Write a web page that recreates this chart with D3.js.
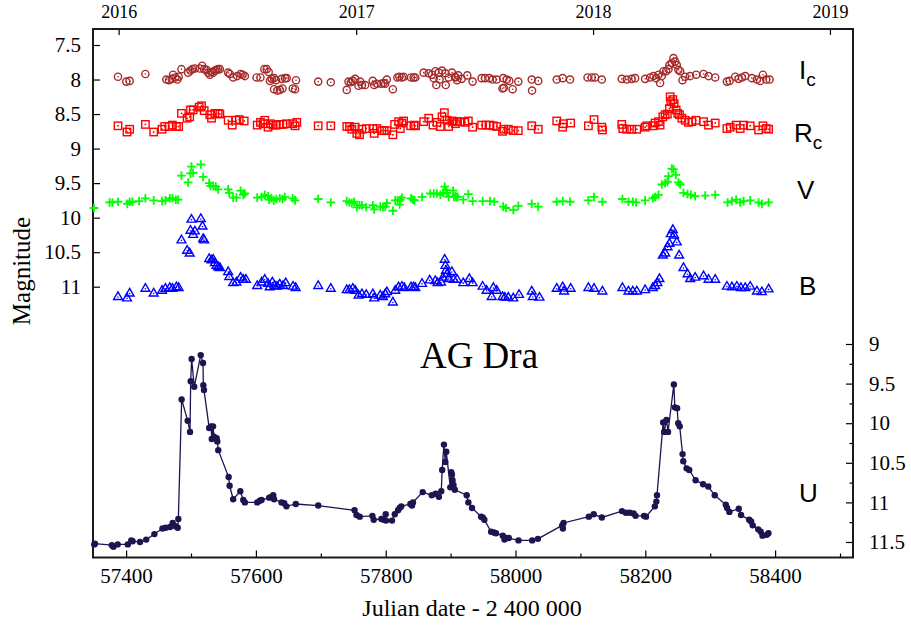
<!DOCTYPE html>
<html><head><meta charset="utf-8">
<script src="https://cdn.jsdelivr.net/npm/d3@7"></script>
<style>
html,body{margin:0;padding:0;background:#fff;}
svg{display:block;}
.serif{font-family:"Liberation Serif","Times New Roman",serif;}
.sans{font-family:"Liberation Sans",Arial,sans-serif;}
</style></head>
<body>
<svg id="c" width="911" height="628"></svg>
<script>
// ---------- data ----------
const bottomTicks = [57400, 57600, 57800, 58000, 58200, 58400];
const bottomMinor = [57500, 57700, 57900, 58100, 58300, 58500];
const yearTicks = [57388.5, 57754.5, 58119.5, 58484.5];
const yearLabels = ["2016", "2017", "2018", "2019"];
const leftTicks = [7.5, 8, 8.5, 9, 9.5, 10, 10.5, 11];
const rightTicks = [9, 9.5, 10, 10.5, 11, 11.5];
const rightMinor = [9.25, 9.75, 10.25, 10.75, 11.25];

const icData = [[57387.5,7.96],[57400.3,8.03],[57405.5,8.02],[57429.7,7.92],[57462,8.00],[57466,8.01],[57470.3,7.99],[57472.4,7.93],[57476,7.97],[57479,8.00],[57481,7.96],[57485.3,7.85],[57495.6,7.90],[57499.2,7.87],[57502,7.85],[57506,7.84],[57513.6,7.84],[57517.2,7.80],[57520.3,7.85],[57523.9,7.86],[57526.5,7.90],[57529,7.93],[57531.6,7.89],[57534.2,7.90],[57536.8,7.87],[57539.3,7.86],[57541.9,7.85],[57544.5,7.85],[57557.3,7.90],[57559.9,7.92],[57565,7.97],[57571.2,7.95],[57576.4,7.92],[57579.5,7.93],[57583,7.95],[57601,7.97],[57607,7.97],[57613,7.85],[57616.6,7.85],[57619.7,7.89],[57621.7,8.02],[57624.3,7.99],[57627.9,7.98],[57631,8.01],[57628,8.14],[57633,8.16],[57637,8.15],[57641,8.13],[57639.7,7.99],[57644.8,7.98],[57647.5,7.98],[57656.7,8.13],[57660.3,8.14],[57661.8,8.01],[57696,8.03],[57715.4,8.04],[57740,8.15],[57742.7,8.03],[57746.3,8.04],[57749.3,8.02],[57753,7.99],[57758,8.09],[57763.4,8.08],[57768.4,8.08],[57760.7,8.03],[57780,8.02],[57782.3,8.08],[57786.4,8.06],[57793,8.06],[57796.7,8.05],[57799.2,8.06],[57801.7,8.00],[57811,8.14],[57818,7.97],[57821,7.96],[57825,7.97],[57827.6,7.96],[57839,7.97],[57843,7.97],[57845.6,7.97],[57858.5,7.90],[57866.2,7.91],[57871.3,7.93],[57876.5,7.88],[57881.6,7.90],[57886.8,7.87],[57892,7.91],[57897,7.97],[57902,7.90],[57907.4,7.97],[57910,8.01],[57878,8.08],[57892.5,8.08],[57874,7.98],[57883,8.00],[57906.6,7.96],[57911.8,7.94],[57917,7.99],[57925.7,7.94],[57933.9,8.03],[57947.8,7.98],[57953,7.98],[57959.6,7.98],[57964.8,8.00],[57971,8.00],[57981,7.98],[57986.4,8.00],[57990.4,8.02],[57980,8.13],[57982,8.12],[57995.6,8.14],[58004.3,8.03],[58025,8.00],[58035,8.02],[58025.5,8.16],[58063.5,8.00],[58072.7,7.98],[58084,8.00],[58111,7.97],[58117.4,7.97],[58122.6,7.97],[58133,8.00],[58163.7,7.99],[58171.4,8.00],[58179,7.99],[58184.3,7.98],[58199.7,7.99],[58207.4,7.97],[58212.6,7.95],[58216.7,7.98],[58220.3,7.93],[58222.8,8.05],[58225.4,7.95],[58228,7.88],[58232.1,7.88],[58235.7,7.85],[58237.2,7.79],[58240.8,7.76],[58243.4,7.69],[58246,7.74],[58248.5,7.79],[58251,7.86],[58253.7,7.88],[58257.3,8.01],[58261.4,7.96],[58269,7.95],[58278.4,7.93],[58289.7,7.92],[58297.4,7.95],[58307.7,7.97],[58325.7,8.03],[58329.8,8.02],[58338.5,7.96],[58343.7,7.99],[58348.8,7.97],[58354,7.95],[58364.2,7.98],[58372,8.00],[58377,8.02],[58381.2,7.93],[58386.3,8.00],[58391.5,8.00]];

const rcData = [[57387.5,8.67],[57401.4,8.76],[57405.5,8.72],[57429.7,8.65],[57442.5,8.76],[57455.4,8.72],[57459.5,8.68],[57466.2,8.68],[57471.4,8.66],[57477.5,8.68],[57481,8.68],[57485.3,8.49],[57494,8.56],[57498,8.54],[57499.2,8.44],[57503.3,8.44],[57512.6,8.40],[57516.2,8.38],[57520.3,8.45],[57529,8.51],[57531.6,8.56],[57536.8,8.49],[57541.9,8.49],[57544.5,8.50],[57557.3,8.59],[57563.5,8.66],[57569.2,8.59],[57574.3,8.58],[57582,8.60],[57602,8.66],[57607,8.62],[57611,8.64],[57613.6,8.59],[57618.7,8.69],[57622.3,8.64],[57626.5,8.66],[57631.5,8.66],[57636.7,8.65],[57641.8,8.65],[57647,8.64],[57656.7,8.64],[57660.3,8.67],[57663,8.62],[57696,8.67],[57715.4,8.67],[57740,8.68],[57744.2,8.68],[57747.8,8.72],[57753,8.69],[57755.5,8.78],[57759.6,8.80],[57763.3,8.72],[57770,8.71],[57780.2,8.71],[57782.3,8.78],[57786.4,8.71],[57794,8.74],[57797.7,8.74],[57801.8,8.74],[57811,8.80],[57813.7,8.65],[57820,8.61],[57825,8.63],[57822.5,8.71],[57827.6,8.60],[57838.5,8.67],[57843.6,8.66],[57846,8.67],[57858.5,8.61],[57866.2,8.56],[57872.9,8.66],[57879,8.62],[57884,8.68],[57886.8,8.54],[57890.4,8.48],[57894.5,8.59],[57897,8.68],[57902,8.60],[57907.4,8.64],[57910,8.61],[57904,8.61],[57914.4,8.61],[57922,8.62],[57927.3,8.60],[57933.9,8.69],[57947.8,8.66],[57954.5,8.66],[57960.6,8.66],[57965.8,8.67],[57971,8.68],[57980,8.75],[57982,8.72],[57989,8.72],[57996.6,8.74],[58004.3,8.74],[58025,8.67],[58035,8.72],[58063.5,8.60],[58072.7,8.69],[58073.7,8.64],[58085,8.63],[58112.3,8.67],[58121,8.58],[58133,8.69],[58134,8.73],[58163.7,8.65],[58165.3,8.71],[58171.4,8.72],[58179,8.72],[58186.9,8.72],[58199.7,8.69],[58202.3,8.67],[58212.6,8.67],[58215.1,8.63],[58220.3,8.61],[58222.8,8.66],[58227,8.54],[58230.5,8.51],[58234,8.50],[58237.2,8.42],[58238.3,8.25],[58239.3,8.32],[58242.4,8.29],[58244.4,8.35],[58247.5,8.44],[58250,8.49],[58252.7,8.51],[58256.3,8.56],[58261.4,8.59],[58266.5,8.62],[58271.7,8.61],[58277.9,8.59],[58289.7,8.61],[58297.4,8.66],[58307.7,8.63],[58325.7,8.71],[58330.8,8.69],[58340,8.66],[58346.2,8.71],[58351.4,8.66],[58361.6,8.67],[58374.5,8.73],[58381.2,8.67],[58386.3,8.71],[58390,8.72]];

const vData = [[57350.4,9.86],[57374.6,9.78],[57378.7,9.78],[57387.5,9.77],[57401.9,9.80],[57405.5,9.77],[57409.6,9.77],[57420,9.76],[57429.7,9.72],[57442.5,9.75],[57455.4,9.76],[57460.6,9.75],[57467.3,9.72],[57471.4,9.72],[57476.5,9.74],[57480.1,9.74],[57485.3,9.39],[57495.6,9.49],[57499.2,9.36],[57500.7,9.26],[57503.3,9.35],[57515.1,9.23],[57518.7,9.41],[57528,9.50],[57530,9.54],[57534.2,9.54],[57538.3,9.55],[57541.9,9.59],[57557.3,9.59],[57558.9,9.64],[57565,9.71],[57570,9.71],[57576.4,9.61],[57580.5,9.67],[57583,9.65],[57602,9.71],[57608.8,9.70],[57613.6,9.67],[57618.7,9.69],[57620.3,9.74],[57623.9,9.72],[57627.5,9.75],[57631.6,9.73],[57636.7,9.72],[57640.8,9.73],[57644.5,9.70],[57656.7,9.72],[57660.3,9.75],[57696,9.73],[57715.4,9.78],[57740,9.76],[57744,9.78],[57747.8,9.79],[57751.4,9.77],[57755.5,9.85],[57759.6,9.82],[57763.3,9.82],[57770,9.85],[57780.2,9.82],[57782.3,9.88],[57791.6,9.84],[57795.7,9.85],[57799.3,9.84],[57801.8,9.79],[57811,9.90],[57814.7,9.75],[57818.3,9.75],[57821.4,9.81],[57822.5,9.74],[57825,9.71],[57839,9.72],[57842,9.74],[57844.2,9.75],[57856,9.70],[57868.8,9.65],[57874,9.65],[57879,9.65],[57884.2,9.67],[57888.3,9.64],[57890.9,9.55],[57892.9,9.60],[57894.5,9.64],[57897,9.70],[57903.8,9.61],[57907.4,9.69],[57911,9.70],[57905,9.70],[57909.2,9.70],[57919.5,9.74],[57927.3,9.66],[57933.9,9.76],[57949.3,9.76],[57960.6,9.76],[57967.3,9.77],[57981,9.84],[57985.3,9.86],[57996.6,9.89],[58004.3,9.83],[58025,9.80],[58035,9.84],[58063.5,9.77],[58072.7,9.76],[58084,9.77],[58112.3,9.75],[58121,9.70],[58133.9,9.77],[58164.7,9.73],[58174,9.77],[58180.7,9.77],[58185.8,9.78],[58199.7,9.75],[58211.5,9.72],[58215.1,9.70],[58220.3,9.67],[58225.4,9.52],[58230.6,9.50],[58234.2,9.48],[58235.7,9.40],[58240.8,9.29],[58243.4,9.30],[58247,9.38],[58251.1,9.49],[58253.7,9.52],[58258.8,9.64],[58265,9.66],[58270.1,9.67],[58276.8,9.69],[58292.3,9.68],[58307.7,9.67],[58326.7,9.78],[58333.4,9.76],[58340,9.74],[58346.2,9.78],[58351.4,9.76],[58361.6,9.75],[58374.5,9.78],[58379.6,9.80],[58390,9.78]];

const bData = [[57387.5,11.14],[57401.4,11.16],[57405.5,11.09],[57429.7,11.02],[57442.5,11.09],[57455.4,11.05],[57460.6,11.02],[57467.3,11.01],[57471.4,11.02],[57477.5,11.00],[57481,11.01],[57485.3,10.32],[57494,10.47],[57498,10.51],[57499.2,10.18],[57500.7,10.02],[57503.3,10.24],[57505.9,10.19],[57515.1,10.01],[57517.7,10.12],[57518.7,10.30],[57520.3,10.32],[57528,10.59],[57531.6,10.61],[57534.2,10.60],[57536.8,10.65],[57539.3,10.69],[57541.9,10.71],[57544.5,10.72],[57557.3,10.78],[57558.9,10.85],[57565,10.94],[57570,10.93],[57576.4,10.86],[57580.5,10.89],[57584.6,10.89],[57602,10.98],[57608.8,10.93],[57613.6,10.89],[57618.7,10.95],[57621.2,11.00],[57625.3,10.93],[57628.9,10.98],[57632.5,10.99],[57636.7,10.96],[57641.8,10.98],[57645.9,10.94],[57657.2,10.99],[57661.3,11.01],[57696,10.98],[57715.4,11.02],[57740,11.04],[57744.2,11.04],[57749.3,11.02],[57753,11.05],[57758.2,11.12],[57763.3,11.10],[57770,11.11],[57780.2,11.10],[57782.3,11.16],[57791.6,11.12],[57795.7,11.14],[57799.3,11.10],[57801.8,11.07],[57811,11.22],[57814.7,11.05],[57819.8,11.00],[57825,10.99],[57828.6,11.01],[57839,11.00],[57843,11.00],[57845.6,11.01],[57856,10.95],[57867.8,10.90],[57876.5,10.91],[57880,10.94],[57885.2,10.93],[57888.3,10.86],[57890.9,10.60],[57892,10.69],[57892.9,10.76],[57894.5,10.81],[57897,10.88],[57902,10.78],[57904.8,10.89],[57910,10.89],[57919.5,10.94],[57928.8,10.88],[57933.9,10.94],[57949.3,10.99],[57955.4,11.05],[57963.2,11.14],[57965.8,11.01],[57971,11.05],[57980,11.14],[57983.5,11.15],[57988.9,11.15],[57996.6,11.16],[58005.4,11.11],[58025,11.06],[58026.6,11.14],[58036.9,11.15],[58063.5,11.02],[58072.7,11.00],[58074.8,11.06],[58085,11.02],[58112.3,11.01],[58121,11.02],[58133.9,11.06],[58164.7,11.01],[58174,11.06],[58180.7,11.06],[58186.9,11.06],[58199.7,11.04],[58211.5,11.01],[58215.1,10.98],[58218.7,10.94],[58221.8,10.88],[58227,10.54],[58230.6,10.51],[58234.2,10.42],[58237.2,10.37],[58239.3,10.23],[58242.4,10.17],[58244.4,10.25],[58248.5,10.35],[58252.1,10.54],[58258.8,10.72],[58265,10.81],[58269.1,10.88],[58276.8,10.86],[58289.7,10.84],[58297.4,10.89],[58307.7,10.89],[58325.7,10.99],[58333.4,11.00],[58341,10.99],[58347.3,11.01],[58354,11.01],[58361.6,10.99],[58372,11.06],[58379.6,11.07],[58390,11.03]];

const uData = [[57351,11.53],[57352,11.52],[57378,11.54],[57380.5,11.56],[57387,11.53],[57402.6,11.53],[57408,11.48],[57410,11.49],[57421.5,11.50],[57431,11.47],[57443.6,11.40],[57456,11.33],[57461,11.32],[57467.7,11.31],[57471.8,11.26],[57476.4,11.30],[57479.5,11.32],[57480.5,11.21],[57485.6,9.70],[57494.9,9.97],[57498.5,10.11],[57499.5,9.47],[57501,9.19],[57505,9.54],[57515,9.14],[57518.5,9.24],[57519,9.52],[57520,9.58],[57528,10.06],[57531,10.04],[57532,10.20],[57534,10.04],[57535.4,10.17],[57539.5,10.19],[57540.5,10.23],[57542,10.34],[57558,10.68],[57559.5,10.79],[57565,10.96],[57576,10.86],[57580.5,10.97],[57583,11.00],[57602,11.00],[57606,10.98],[57608.7,10.97],[57620.5,10.94],[57624,10.93],[57626.7,10.91],[57628,10.96],[57639.5,11.00],[57643.6,11.01],[57647,11.05],[57661.5,11.02],[57696,11.04],[57752,11.10],[57755,11.16],[57760,11.18],[57779.5,11.17],[57781.5,11.22],[57793.3,11.21],[57797,11.22],[57800,11.15],[57800.5,11.23],[57809.7,11.23],[57814,11.15],[57819,11.10],[57821.5,11.07],[57824,11.05],[57838,11.02],[57840.5,11.04],[57842,11.00],[57857,10.87],[57871,10.91],[57876.9,10.89],[57882,10.93],[57885.6,10.86],[57887,10.59],[57889.7,10.27],[57891.8,10.49],[57893.3,10.36],[57899.5,10.81],[57901,10.62],[57902,10.65],[57903,10.72],[57904.5,10.78],[57906.5,10.84],[57924.8,10.91],[57927.4,11.00],[57933,11.07],[57947,11.18],[57949.5,11.19],[57952,11.22],[57962.4,11.37],[57966.5,11.38],[57970,11.39],[57980.4,11.42],[57983,11.47],[57985.6,11.45],[57989.7,11.45],[58004.6,11.48],[58025.7,11.48],[58034.5,11.46],[58072,11.29],[58073,11.33],[58074,11.26],[58113,11.18],[58120.5,11.15],[58133,11.19],[58164,11.11],[58170,11.13],[58176,11.13],[58182,11.14],[58185,11.17],[58198,11.17],[58201,11.18],[58214.7,11.05],[58217,10.99],[58218,10.91],[58227.5,9.99],[58229,10.11],[58232.7,9.96],[58235,10.11],[58244,9.51],[58245.5,9.80],[58249,9.81],[58250.7,10.00],[58253,10.04],[58257.4,10.39],[58258.5,10.48],[58263.6,10.57],[58267.7,10.59],[58277.5,10.72],[58289,10.77],[58297,10.80],[58307,10.91],[58324,11.03],[58326,11.07],[58329.5,11.12],[58344,11.08],[58347.5,11.16],[58360,11.22],[58363,11.24],[58365.5,11.29],[58374,11.34],[58378,11.37],[58380.5,11.42],[58387,11.41],[58389.7,11.39]];

// ---------- layout ----------
const L = 93, R = 853, T = 29, B = 557.5;
const svg = d3.select("#c");
const x = d3.scaleLinear().domain([57349, 58520]).range([L, R]);
const yL = d3.scaleLinear().domain([7.2683, 14.921]).range([T, B]);
const yR = d3.scaleLinear().domain([5.0227, 11.6957]).range([T, B]);

const cIc = "#a52a2a", cRc = "#ff0000", cV = "#00ff00", cB = "#0000ff", cU = "#1e1450";

function styleAxis(g){
  g.select(".domain").remove();
  g.selectAll(".tick line").attr("stroke", "#000").attr("stroke-width", 1.2);
  g.selectAll("text").attr("class","serif").attr("fill","#000");
}
svg.append("g").attr("transform",`translate(0,${B})`)
  .call(d3.axisBottom(x).tickValues(bottomTicks).tickSize(-7).tickPadding(11).tickFormat(d3.format("d")))
  .call(styleAxis).selectAll("text").attr("font-size",21);
svg.append("g").attr("transform",`translate(0,${B})`)
  .call(d3.axisBottom(x).tickValues(bottomMinor).tickSize(-4).tickFormat(""))
  .call(styleAxis);
svg.append("g").attr("transform",`translate(0,${T})`)
  .call(d3.axisTop(x).tickValues(yearTicks).tickSize(-6).tickPadding(11).tickFormat((d,i)=>yearLabels[i]))
  .call(styleAxis).selectAll("text").attr("font-size",18);
svg.append("g").attr("transform",`translate(${L},0)`)
  .call(d3.axisLeft(yL).tickValues(leftTicks).tickSize(-7).tickPadding(12).tickFormat(d=>String(d)))
  .call(styleAxis).selectAll("text").attr("font-size",21);
svg.append("g").attr("transform",`translate(${R},0)`)
  .call(d3.axisRight(yR).tickValues(rightTicks).tickSize(-7).tickPadding(16).tickFormat(d=>String(d)))
  .call(styleAxis).selectAll("text").attr("font-size",21);
svg.append("g").attr("transform",`translate(${R},0)`)
  .call(d3.axisRight(yR).tickValues(rightMinor).tickSize(-3.5).tickFormat(""))
  .call(styleAxis);

svg.append("rect").attr("x",L).attr("y",T).attr("width",R-L).attr("height",B-T)
  .attr("fill","none").attr("stroke","#1a1a1a").attr("stroke-width",2);

const plot = svg.append("g");

// Ic: circles with centre dot
const gIc = plot.append("g");
gIc.selectAll("circle.o").data(icData).join("circle").attr("class","o")
  .attr("cx",d=>x(d[0])).attr("cy",d=>yL(d[1])).attr("r",3.6)
  .attr("fill","none").attr("stroke",cIc).attr("stroke-width",1.4);
gIc.selectAll("circle.d").data(icData).join("circle").attr("class","d")
  .attr("cx",d=>x(d[0])).attr("cy",d=>yL(d[1])).attr("r",0.8).attr("fill",cIc);

// Rc: squares with centre dot
const gRc = plot.append("g");
gRc.selectAll("rect.o").data(rcData).join("rect").attr("class","o")
  .attr("x",d=>x(d[0])-3.7).attr("y",d=>yL(d[1])-3.7).attr("width",7.4).attr("height",7.4)
  .attr("fill","none").attr("stroke",cRc).attr("stroke-width",1.4);
gRc.selectAll("rect.d").data(rcData).join("rect").attr("class","d")
  .attr("x",d=>x(d[0])-0.8).attr("y",d=>yL(d[1])-0.8).attr("width",1.6).attr("height",1.6).attr("fill",cRc);

// V: plus
plot.append("g").selectAll("path").data(vData).join("path")
  .attr("transform",d=>`translate(${x(d[0])},${yL(d[1])})`)
  .attr("d","M-4.3,0H4.3M0,-4.3V4.3").attr("stroke",cV).attr("stroke-width",1.8).attr("fill","none");

// B: triangles with centre dot
const gB = plot.append("g");
gB.selectAll("path").data(bData).join("path")
  .attr("transform",d=>`translate(${x(d[0])},${yL(d[1])})`)
  .attr("d","M0,-4.5L4.4,3.1L-4.4,3.1Z").attr("fill","none").attr("stroke",cB).attr("stroke-width",1.4);
gB.selectAll("circle").data(bData).join("circle")
  .attr("cx",d=>x(d[0])).attr("cy",d=>yL(d[1])+0.6).attr("r",0.8).attr("fill",cB);

// U: line + filled dots
const uSorted = uData.slice().sort((a,b)=>a[0]-b[0]);
plot.append("path").datum(uSorted)
  .attr("d", d3.line().x(d=>x(d[0])).y(d=>yR(d[1])))
  .attr("fill","none").attr("stroke",cU).attr("stroke-width",1.3);
plot.append("g").selectAll("circle").data(uSorted).join("circle")
  .attr("cx",d=>x(d[0])).attr("cy",d=>yR(d[1])).attr("r",3.2).attr("fill",cU);

function bandLabel(xp, yp, main, sub){
  const t = svg.append("text").attr("class","sans").attr("x",xp).attr("y",yp)
    .attr("font-size",26).attr("fill","#000").text(main);
  if (sub) t.append("tspan").attr("font-size",19).attr("dy",7).text(sub);
}
bandLabel(799, 79, "I", "c");
bandLabel(794, 141.5, "R", "c");
bandLabel(797, 199, "V");
bandLabel(799, 295, "B");
bandLabel(799, 502, "U");

svg.append("text").attr("class","serif").attr("x",479).attr("y",368).attr("text-anchor","middle")
  .attr("font-size",37).attr("fill","#000").text("AG Dra");
svg.append("text").attr("class","serif").attr("x",472).attr("y",616).attr("text-anchor","middle")
  .attr("font-size",24).attr("fill","#000").text("Julian date - 2 400 000");
svg.append("text").attr("class","serif").attr("transform","translate(30,271) rotate(-90)")
  .attr("text-anchor","middle").attr("font-size",25).attr("fill","#000").text("Magnitude");
</script>
</body></html>
